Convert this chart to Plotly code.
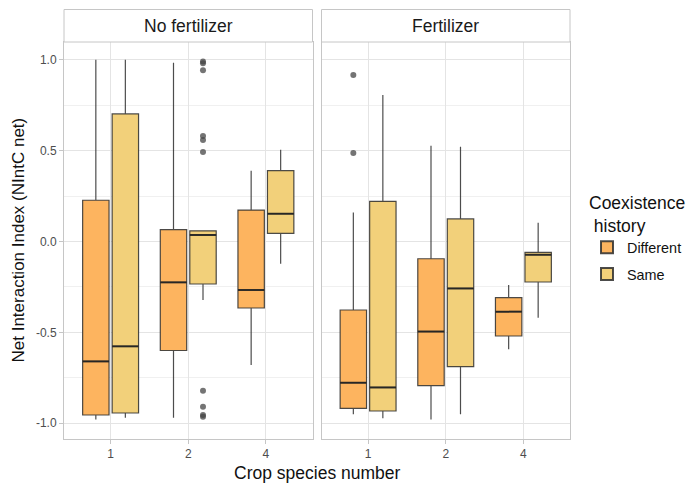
import plotly.graph_objects as go
from plotly.subplots import make_subplots

# ---- data -------------------------------------------------------------
categories = ["1", "2", "4"]
panels = ["No fertilizer", "Fertilizer"]
groups = ["Different", "Same"]

# No fertilizer, coexistence history "Different"
nofert_diff_low = [-0.98, -0.97, -0.68]
nofert_diff_q1 = [-0.955, -0.60, -0.366]
nofert_diff_med = [-0.66, -0.225, -0.267]
nofert_diff_q3 = [0.227, 0.065, 0.173]
nofert_diff_high = [1.0, 0.984, 0.39]

# No fertilizer, coexistence history "Same"
nofert_same_low = [-0.97, -0.322, -0.122]
nofert_same_q1 = [-0.944, -0.234, 0.045]
nofert_same_med = [-0.577, 0.036, 0.153]
nofert_same_q3 = [0.702, 0.059, 0.39]
nofert_same_high = [1.0, 0.059, 0.505]

# Fertilizer, "Different"
fert_diff_low = [-0.951, -0.979, -0.593]
fert_diff_q1 = [-0.918, -0.793, -0.52]
fert_diff_med = [-0.777, -0.496, -0.386]
fert_diff_q3 = [-0.377, -0.095, -0.309]
fert_diff_high = [0.159, 0.527, -0.239]

# Fertilizer, "Same"
fert_same_low = [-0.973, -0.951, -0.419]
fert_same_q1 = [-0.933, -0.689, -0.223]
fert_same_med = [-0.803, -0.258, -0.073]
fert_same_q3 = [0.221, 0.124, -0.060]
fert_same_high = [0.806, 0.522, 0.103]

# outlying observations: (category, values)
nofert_same_outliers = ("2", [0.99, 0.981, 0.942, 0.581, 0.559, 0.493,
                              -0.821, -0.909, -0.955, -0.965])
fert_diff_outliers = ("1", [0.916, 0.487])

y_ticks = [-1.0, -0.5, 0.0, 0.5, 1.0]
y_minor = [-0.75, -0.25, 0.25, 0.75]

# ---- style ------------------------------------------------------------
FONT = "Liberation Sans, Arial, sans-serif"
FILL = {"Different": "rgb(253,180,95)", "Same": "rgb(242,208,122)"}
DODGE = {"Different": -0.19, "Same": 0.19}
BOX_W = 0.34
EDGE = "rgba(45,45,45,0.85)"
BORDER = "#c6c6c6"
GRID = "#e4e4e4"
GRID_MINOR = "#f0f0f0"
TITLE_SIZE = 17.5

stats = {
    ("No fertilizer", "Different"): (nofert_diff_low, nofert_diff_q1, nofert_diff_med, nofert_diff_q3, nofert_diff_high),
    ("No fertilizer", "Same"): (nofert_same_low, nofert_same_q1, nofert_same_med, nofert_same_q3, nofert_same_high),
    ("Fertilizer", "Different"): (fert_diff_low, fert_diff_q1, fert_diff_med, fert_diff_q3, fert_diff_high),
    ("Fertilizer", "Same"): (fert_same_low, fert_same_q1, fert_same_med, fert_same_q3, fert_same_high),
}
outliers = {
    ("No fertilizer", "Same"): nofert_same_outliers,
    ("Fertilizer", "Different"): fert_diff_outliers,
}

W, H = 691, 484
ML, MR, MT, MB = 64, 121, 42, 45
plot_w = W - ML - MR
plot_h = H - MT - MB
gap = 9

fig = make_subplots(rows=1, cols=2, shared_yaxes=True,
                    horizontal_spacing=gap / plot_w)

cat_pos = {c: i + 1 for i, c in enumerate(categories)}

for col, panel in enumerate(panels, start=1):
    for grp in groups:
        low, q1, med, q3, high = stats[(panel, grp)]
        xs = [cat_pos[c] + DODGE[grp] for c in categories]
        fig.add_trace(go.Box(
            x=xs, q1=q1, median=med, q3=q3,
            lowerfence=low, upperfence=high,
            width=BOX_W, whiskerwidth=0,
            fillcolor=FILL[grp],
            line=dict(color=EDGE, width=1.2),
            name=grp, legendgroup=grp, showlegend=(col == 1),
            boxpoints=False, hoverinfo="y",
        ), row=1, col=col)
        # thicker median bars
        mx, my = [], []
        for x, m in zip(xs, med):
            mx += [x - BOX_W / 2, x + BOX_W / 2, None]
            my += [m, m, None]
        fig.add_trace(go.Scatter(
            x=mx, y=my, mode="lines",
            line=dict(color="rgba(35,35,35,0.9)", width=2),
            showlegend=False, hoverinfo="skip",
        ), row=1, col=col)
        if (panel, grp) in outliers:
            cat, vals = outliers[(panel, grp)]
            fig.add_trace(go.Scatter(
                x=[cat_pos[cat] + DODGE[grp]] * len(vals), y=vals,
                mode="markers",
                marker=dict(color="rgba(70,70,70,0.75)", size=6),
                showlegend=False, hoverinfo="y",
            ), row=1, col=col)

axis_common = dict(
    showline=True, mirror=True, linecolor=BORDER, linewidth=1,
    ticks="outside", ticklen=4, tickcolor=BORDER,
    tickfont=dict(family=FONT, size=12, color="#4d4d4d"),
    gridcolor=GRID, gridwidth=1, zeroline=False,
)
for col in (1, 2):
    fig.update_xaxes(
        range=[0.4, len(categories) + 0.6],
        tickvals=[cat_pos[c] for c in categories], ticktext=categories,
        row=1, col=col, **axis_common)
fig.update_yaxes(
    range=[-1.087, 1.098], tickvals=y_ticks,
    ticktext=[f"{v:.1f}" for v in y_ticks],
    minor=dict(tickvals=y_minor, showgrid=True, gridcolor=GRID_MINOR,
               gridwidth=0.8, ticks=""),
    **axis_common)
fig.update_yaxes(showticklabels=False, ticks="", row=1, col=2)

# facet strips
strip_h = 32.5 / plot_h
for col, panel in enumerate(panels, start=1):
    xref = "x domain" if col == 1 else "x2 domain"
    fig.add_shape(type="rect", xref=xref, yref="paper",
                  x0=0, x1=1, y0=1, y1=1 + strip_h,
                  fillcolor="white", line=dict(color=BORDER, width=1))
    fig.add_annotation(text=panel, xref=xref, yref="paper",
                       x=0.5, y=1 + strip_h / 2, showarrow=False,
                       font=dict(family=FONT, size=TITLE_SIZE, color="#1a1a1a"),
                       xanchor="center", yanchor="middle")

# axis titles
fig.add_annotation(text="Crop species number", xref="paper", yref="paper",
                   x=0.5, y=-33.5 / plot_h, showarrow=False,
                   xanchor="center", yanchor="middle",
                   font=dict(family=FONT, size=TITLE_SIZE, color="#111"))
fig.add_annotation(text="Net Interaction Index (NIntC net)",
                   xref="paper", yref="paper",
                   x=-46 / plot_w, y=0.5, textangle=-90, showarrow=False,
                   xanchor="center", yanchor="middle",
                   font=dict(family=FONT, size=17, color="#111"))

fig.update_layout(
    width=W, height=H,
    margin=dict(l=ML, r=MR, t=MT, b=MB, autoexpand=False),
    paper_bgcolor="white", plot_bgcolor="white",
    boxmode="overlay",
    font=dict(family=FONT),
    legend=dict(
        title=dict(text="Coexistence<br>\u00a0history",
                   font=dict(family=FONT, size=TITLE_SIZE, color="#111")),
        font=dict(family=FONT, size=14.4, color="#111"),
        x=(587 - ML) / plot_w, xanchor="left",
        y=(H - MB - 186) / plot_h, yanchor="top",
        bgcolor="rgba(0,0,0,0)", itemsizing="constant",
        tracegroupgap=5,
    ),
    showlegend=True,
)

fig.write_html("out.html")
